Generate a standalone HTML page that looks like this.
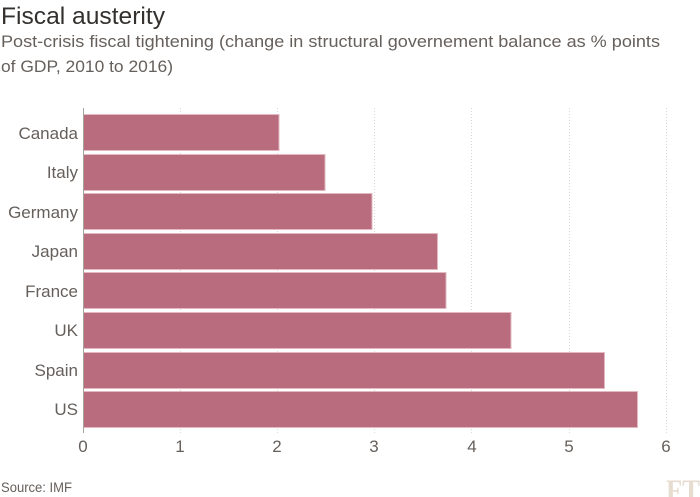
<!DOCTYPE html>
<html><head><meta charset="utf-8"><style>
html,body{margin:0;padding:0;background:#fff;}
svg{display:block;font-family:"Liberation Sans",sans-serif;}
</style></head><body>
<svg width="700" height="497" viewBox="0 0 700 497" xmlns="http://www.w3.org/2000/svg">
<rect width="700" height="497" fill="#fff"/>
<text x="1" y="24" font-size="24" fill="#33302e" textLength="164" lengthAdjust="spacingAndGlyphs">Fiscal austerity</text>
<text x="1" y="47" font-size="17" fill="#66605c" textLength="659" lengthAdjust="spacingAndGlyphs">Post-crisis fiscal tightening (change in structural governement balance as % points</text>
<text x="1" y="72" font-size="17" fill="#66605c" textLength="172" lengthAdjust="spacingAndGlyphs">of GDP, 2010 to 2016)</text>
<g stroke="#dcd6ce" stroke-width="1" stroke-dasharray="1,2">
<line x1="180.5" y1="108" x2="180.5" y2="433"/>
<line x1="277.5" y1="108" x2="277.5" y2="433"/>
<line x1="374.5" y1="108" x2="374.5" y2="433"/>
<line x1="471.5" y1="108" x2="471.5" y2="433"/>
<line x1="569.5" y1="108" x2="569.5" y2="433"/>
<line x1="666.5" y1="108" x2="666.5" y2="433"/>
</g>
<g fill="#b96c7d" stroke="#e2b9c1" stroke-width="1">
<rect x="83.5" y="114.5" width="195.5" height="36"/>
<rect x="83.5" y="154.5" width="241.5" height="36"/>
<rect x="83.5" y="193.5" width="288.5" height="36"/>
<rect x="83.5" y="233.5" width="354" height="36"/>
<rect x="83.5" y="272.5" width="362.5" height="36"/>
<rect x="83.5" y="312.5" width="427.5" height="36"/>
<rect x="83.5" y="352.5" width="521" height="36"/>
<rect x="83.5" y="391.5" width="554" height="36"/>
</g>
<line x1="83.5" y1="108" x2="83.5" y2="433" stroke="#a7a59b" stroke-width="1"/>
<g font-size="17" fill="#66605c" text-anchor="end">
<text x="78" y="139">Canada</text>
<text x="78" y="178">Italy</text>
<text x="78" y="218">Germany</text>
<text x="78" y="257">Japan</text>
<text x="78" y="297">France</text>
<text x="78" y="336">UK</text>
<text x="78" y="376">Spain</text>
<text x="78" y="415">US</text>
</g>
<g font-size="17" fill="#66605c" text-anchor="middle">
<text x="83" y="452">0</text>
<text x="180" y="452">1</text>
<text x="277" y="452">2</text>
<text x="374" y="452">3</text>
<text x="472" y="452">4</text>
<text x="569" y="452">5</text>
<text x="666" y="452">6</text>
</g>
<text x="1" y="492" font-size="14" fill="#66605c" textLength="71" lengthAdjust="spacingAndGlyphs">Source: IMF</text>
<text x="666" y="500" font-size="30" font-family="Liberation Serif,serif" font-weight="bold" fill="#e6dccf" textLength="34" lengthAdjust="spacingAndGlyphs">FT</text>
</svg>
</body></html>
